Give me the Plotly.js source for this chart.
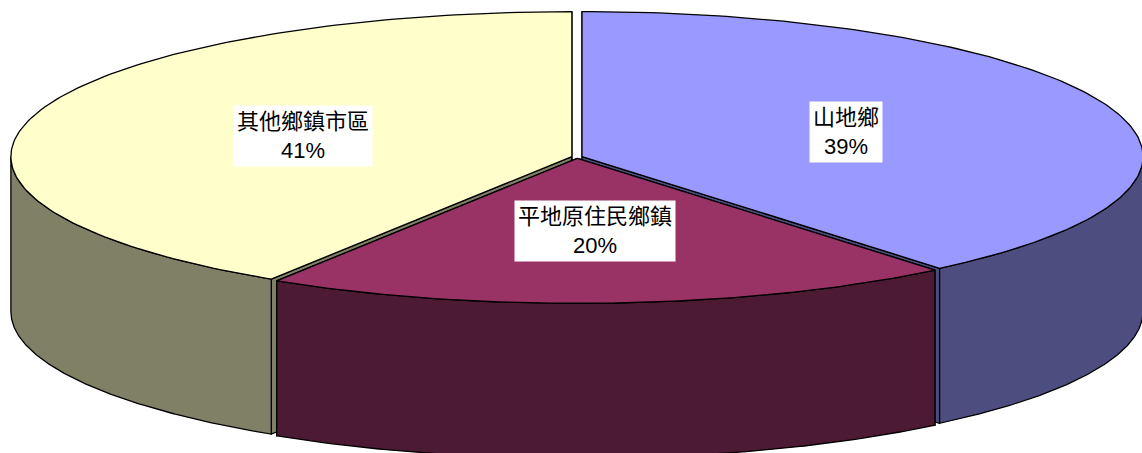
<!DOCTYPE html>
<html>
<head>
<meta charset="utf-8">
<script src="https://cdn.plot.ly/plotly-3.0.1.min.js"></script>
<style>
  html, body { margin: 0; padding: 0; background: #fff; }
  #chart { width: 1142px; height: 453px; }
</style>
</head>
<body>
<div id="chart"></div>
<script>
// data (clockwise from 12 o'clock)
const labels = ['山地鄉', '平地原住民鄉鎮', '其他鄉鎮市區'];
const values = [39, 20, 41];
const topColors = ['#9999FF', '#993366', '#FFFFCC'];
const sideColors = ['#4D4D80', '#4D1A33', '#808066'];

// 3d pie geometry
const CX = 577, CY = 157;   // centre of the top face
const RX = 561, RY = 145;   // radii of the top ellipse
const DEPTH = 155;          // thickness
const EXPLODE = 0.0095;     // small explosion, fraction of radius
const N = 160;

const total = values.reduce((a, b) => a + b, 0);

function pt(cx, cy, ang, f) {
  const r = ang * Math.PI / 180;
  return [cx + f * RX * Math.sin(r), cy - f * RY * Math.cos(r)];
}

function arc(cx, cy, a0, a1, dy) {
  const xs = [], ys = [];
  for (let i = 0; i <= N; i++) {
    const p = pt(cx, cy, a0 + (a1 - a0) * i / N, 1);
    xs.push(p[0]); ys.push(p[1] + dy);
  }
  return [xs, ys];
}

function poly(xs, ys, color) {
  return {
    x: xs, y: ys, type: 'scatter', mode: 'lines',
    fill: 'toself', fillcolor: color,
    line: {color: '#000', width: 1.3},
    hoverinfo: 'skip', showlegend: false
  };
}

// build slices
const slices = [];
let start = 0;
values.forEach((v, i) => {
  const sweep = v / total * 360;
  const a0 = start, a1 = start + sweep, mid = start + sweep / 2;
  const off = pt(0, 0, mid, EXPLODE);
  slices.push({i, a0, a1, mid, cx: CX + off[0], cy: CY + off[1]});
  start = a1;
});

// draw order: back slices first, the front one last
const order = slices.slice().sort((a, b) => {
  const fa = -Math.cos(a.mid * Math.PI / 180), fb = -Math.cos(b.mid * Math.PI / 180);
  return fa - fb;
});

const traces = [];
const annotations = [];
order.forEach(s => {
  // radial walls (only show through the explosion gaps)
  [s.a0, s.a1].forEach(a => {
    const e = pt(s.cx, s.cy, a, 1);
    traces.push(poly([s.cx, e[0], e[0], s.cx, s.cx],
                     [s.cy, e[1], e[1] + DEPTH, s.cy + DEPTH, s.cy], sideColors[s.i]));
  });
  // outer side, front half only (90..270 deg)
  const lo = Math.max(s.a0, 90), hi = Math.min(s.a1, 270);
  if (hi > lo) {
    const t = arc(s.cx, s.cy, lo, hi, 0);
    const b = arc(s.cx, s.cy, lo, hi, DEPTH);
    const xs = t[0].concat(b[0].slice().reverse(), [t[0][0]]);
    const ys = t[1].concat(b[1].slice().reverse(), [t[1][0]]);
    traces.push(poly(xs, ys, sideColors[s.i]));
  }
  // top face
  const t = arc(s.cx, s.cy, s.a0, s.a1, 0);
  traces.push(poly([s.cx].concat(t[0], [s.cx]), [s.cy].concat(t[1], [s.cy]), topColors[s.i]));
});

slices.forEach(s => {
  const p = pt(s.cx, s.cy, s.mid, 0.5);
  annotations.push({
    x: p[0], y: p[1], xref: 'x', yref: 'y',
    text: labels[s.i] + '<br>' + Math.round(values[s.i] / total * 100) + '%',
    showarrow: false, bgcolor: '#fff', borderpad: 3,
    font: {family: '"Liberation Sans", "Noto Sans CJK TC", sans-serif', size: 22, color: '#000'}
  });
});

const layout = {
  width: 1142, height: 453,
  margin: {l: 0, r: 0, t: 0, b: 0},
  paper_bgcolor: '#fff', plot_bgcolor: '#fff',
  xaxis: {range: [0, 1142], visible: false, fixedrange: true},
  yaxis: {range: [453, 0], visible: false, fixedrange: true},
  annotations: annotations,
  showlegend: false
};

Plotly.newPlot('chart', traces, layout, {staticPlot: true});
</script>
</body>
</html>
